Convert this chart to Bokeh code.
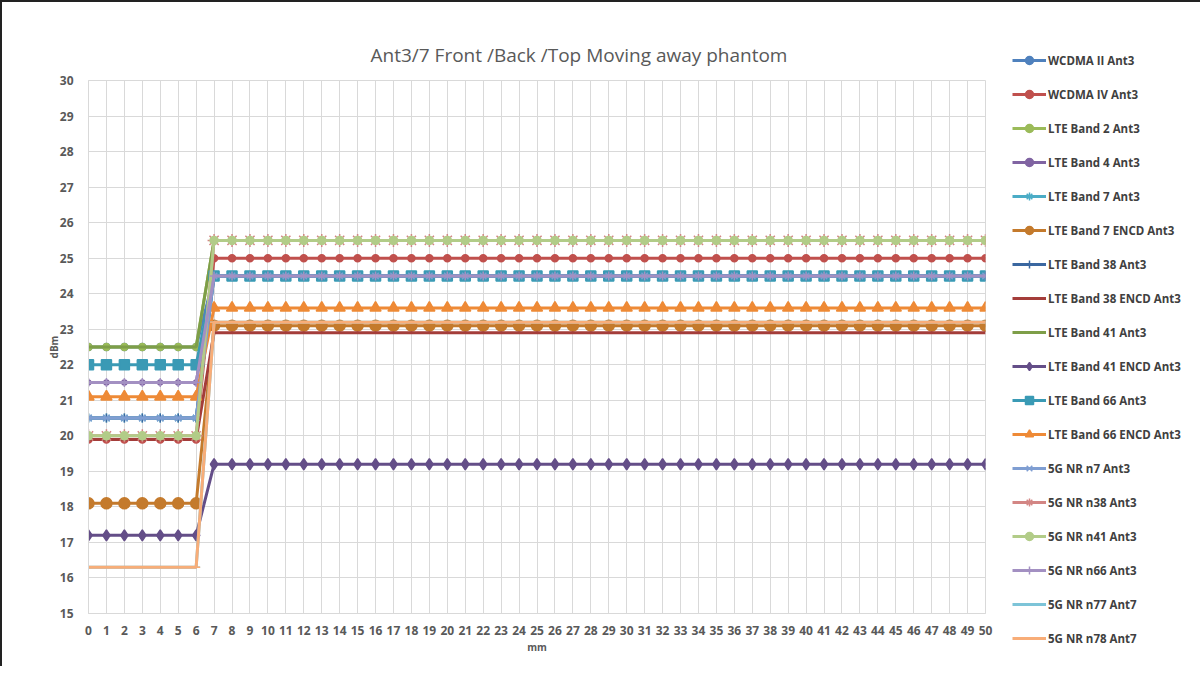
from bokeh.plotting import figure
from bokeh.models import ColumnDataSource, Legend, LegendItem, FixedTicker, Range1d
from bokeh.embed import file_html
from bokeh.resources import INLINE

# distance (mm) categories
distance_mm = list(range(0, 51))
step_index = 7  # first distance after the power change (7 mm)

series_names = [
    "WCDMA II Ant3", "WCDMA IV Ant3", "LTE Band 2 Ant3", "LTE Band 4 Ant3",
    "LTE Band 7 Ant3", "LTE Band 7 ENCD Ant3", "LTE Band 38 Ant3",
    "LTE Band 38 ENCD Ant3", "LTE Band 41 Ant3", "LTE Band 41 ENCD Ant3",
    "LTE Band 66 Ant3", "LTE Band 66 ENCD Ant3", "5G NR n7 Ant3",
    "5G NR n38 Ant3", "5G NR n41 Ant3", "5G NR n66 Ant3", "5G NR n77 Ant7",
    "5G NR n78 Ant7",
]
# power (dBm) at 0-6 mm
near_dbm = [22.5, 19.9, 22.5, 21.5, 20.5, 18.1, 20.5, 19.9, 22.5, 17.2,
            22.0, 21.1, 20.5, 20.0, 20.0, 21.5, 16.3, 16.3]
# power (dBm) at 7-50 mm
far_dbm = [24.5, 25.0, 25.5, 24.5, 24.5, 23.1, 24.5, 22.9, 25.5, 19.2,
           24.5, 23.6, 24.5, 25.5, 25.5, 24.5, 23.2, 23.2]

colors = ["#4F81BD", "#C0504D", "#9BBB59", "#8064A2", "#4BACC6", "#C47A2C",
          "#3A67A0", "#A43D3A", "#7E9E48", "#644E88", "#3A9AB5", "#EE8A36",
          "#7F9ED2", "#D38684", "#B2CC88", "#A390C2", "#7DC4D8", "#F8AD78"]
markers = ["circle", "circle", "circle", "circle", "asterisk", "circle",
           "cross", None, None, "diamond", "square", "triangle",
           "x", "asterisk", "circle", "cross", "dash", "dash"]
msizes = [7, 7, 7, 5, 9, 11, 9, 0, 0, 11, 10, 11, 9, 13, 8, 9, 8, 8]

p = figure(width=1184, height=664, output_backend="svg", toolbar_location=None,
           x_range=Range1d(0, 50), y_range=Range1d(15, 30),
           min_border_left=86, min_border_top=78, min_border_bottom=53,
           min_border_right=0)
p.frame_width = 897
p.frame_height = 533
p.styles = {"border-left": "2px solid #222", "border-top": "2px solid #222"}

p.title.text = "Ant3/7 Front /Back /Top Moving away phantom"
p.title.align = "left"
p.title.offset = 282
p.title.standoff = 26
p.title.text_font = "Open Sans"
p.title.text_font_size = "19px"
p.title.text_font_style = "normal"
p.title.text_color = "#595959"

items = []
for i, name in enumerate(series_names):
    ys = [near_dbm[i] if d < step_index else far_dbm[i] for d in distance_mm]
    src = ColumnDataSource(dict(x=distance_mm, y=ys))
    rs = [p.line("x", "y", source=src, line_color=colors[i], line_width=3)]
    if markers[i]:
        rs.append(p.scatter("x", "y", source=src, marker=markers[i], size=msizes[i],
                            fill_color=colors[i], line_color=colors[i], line_width=1.5))
    items.append(LegendItem(label=name, renderers=rs))

legend = Legend(items=items, location=(27, -35), orientation="vertical",
                label_text_font="Open Sans", label_text_font_size="11.5px",
                label_text_color="#404040", label_text_font_style="bold",
                glyph_width=34, glyph_height=20, spacing=14, padding=0,
                label_standoff=2, background_fill_alpha=0, border_line_alpha=0,
                margin=0)
p.add_layout(legend, "right")

p.xaxis.ticker = FixedTicker(ticks=distance_mm)
p.yaxis.ticker = FixedTicker(ticks=list(range(15, 31)))
p.xgrid.ticker = FixedTicker(ticks=distance_mm)
for ax in (p.xaxis[0], p.yaxis[0]):
    ax.major_label_text_font = "Open Sans"
    ax.major_label_text_font_size = "12px"
    ax.major_label_text_color = "#595959"
    ax.major_label_text_font_style = "bold"
    ax.axis_line_color = "#D9D9D9"
    ax.major_tick_line_color = None
    ax.minor_tick_line_color = None
    ax.axis_label_text_font = "Open Sans"
    ax.axis_label_text_font_size = "10px"
    ax.axis_label_text_font_style = "bold"
    ax.axis_label_text_color = "#595959"
p.xaxis.axis_label = "mm"
p.yaxis.axis_label = "dBm"
p.xaxis.major_label_standoff = 6
p.yaxis.major_label_standoff = 9
p.xaxis.axis_label_standoff = 2
p.yaxis.axis_label_standoff = -4
p.xgrid.grid_line_color = "#D9D9D9"
p.ygrid.grid_line_color = "#D9D9D9"
p.outline_line_color = "#D9D9D9"

open("out.html", "w").write(file_html(p, INLINE))
